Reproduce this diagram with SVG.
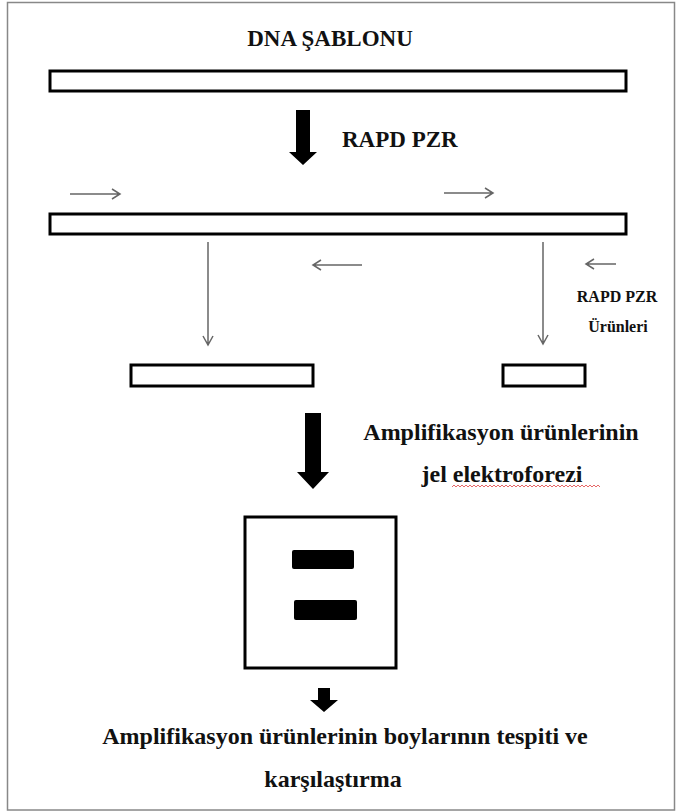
<svg xmlns="http://www.w3.org/2000/svg" width="676" height="812" viewBox="0 0 676 812">
<style>
.t{font-family:"Liberation Serif","Tinos","Times New Roman",Times,serif;font-weight:700;fill:#111}
.bar{fill:#fff;stroke:#000;stroke-width:3}
.thin{stroke:#666;stroke-width:1.5;fill:none}
.blk{fill:#000}
</style>
<rect x="0" y="0" width="676" height="812" fill="#fff"/>
<rect x="7.5" y="2.5" width="667" height="807.5" fill="none" stroke="#888" stroke-width="1.5"/>
<g id="title"><text class="t" x="330" y="46" font-size="23" text-anchor="middle" font-family="Liberation Serif, serif">DNA ŞABLONU</text></g>
<g id="dna-template"><rect class="bar" x="50" y="71" width="576" height="20"/></g>
<g id="rapd-label"><text class="t" x="342" y="147" font-size="23">RAPD PZR</text></g>
<g id="dna-primed"><rect class="bar" x="50" y="214" width="576" height="20"/></g>
<g id="product-1"><rect class="bar" x="131" y="365" width="182" height="21"/></g>
<g id="product-2"><rect class="bar" x="503" y="365" width="82" height="21"/></g>
<g id="products-label">
<text class="t" x="617" y="302" font-size="16" text-anchor="middle">RAPD PZR</text>
<text class="t" x="618" y="332" font-size="16" text-anchor="middle">Ürünleri</text>
</g>
<g id="gel-label">
<text class="t" x="501" y="440" font-size="24" text-anchor="middle">Amplifikasyon ürünlerinin</text>
<text class="t" x="502" y="482" font-size="24" text-anchor="middle">jel elektroforezi</text>
<path d="M452 487 l2 -2 l2 2 l2 -2 l2 2 l2 -2 l2 2 l2 -2 l2 2 l2 -2 l2 2 l2 -2 l2 2 l2 -2 l2 2 l2 -2 l2 2 l2 -2 l2 2 l2 -2 l2 2 l2 -2 l2 2 l2 -2 l2 2 l2 -2 l2 2 l2 -2 l2 2 l2 -2 l2 2 l2 -2 l2 2 l2 -2 l2 2 l2 -2 l2 2 l2 -2 l2 2 l2 -2 l2 2 l2 -2 l2 2 l2 -2 l2 2 l2 -2 l2 2 l2 -2 l2 2 l2 -2 l2 2 l2 -2 l2 2 l2 -2 l2 2 l2 -2 l2 2 l2 -2 l2 2 l2 -2 l2 2 l2 -2 l2 2 l2 -2 l2 2 l2 -2 l2 2 l2 -2 l2 2 l2 -2 l2 2 l2 -2 l2 2 l2 -2 l2 2" fill="none" stroke="#e04040" stroke-width="0.8"/>
</g>
<g id="gel">
<rect x="245" y="517" width="151" height="151" fill="#fff" stroke="#000" stroke-width="3"/>
<rect class="blk" x="292" y="550" width="62" height="19" rx="2"/>
<rect class="blk" x="294" y="600" width="63" height="20" rx="2"/>
</g>
<g id="result-label">
<text class="t" x="345" y="744" font-size="24" text-anchor="middle">Amplifikasyon ürünlerinin boylarının tespiti ve</text>
<text class="t" x="333" y="787" font-size="24" text-anchor="middle">karşılaştırma</text>
</g>
<g id="connectors">
<polygon class="blk" points="296,110 310,110 310,152 317,152 303,165 289,152 296,152"/>
<polygon class="blk" points="305,413 321,413 321,472 329,472 313,489 297,472 305,472"/>
<polygon class="blk" points="318,688 330,688 330,700 338,700 324,712 310,700 318,700"/>
<g class="thin">
<path d="M70 194 H120 M112 189 L120 194 L112 199"/>
<path d="M444 193 H493 M485 188 L493 193 L485 198"/>
<path d="M362 265 H313 M321 260 L313 265 L321 270"/>
<path d="M616 264 H586 M594 259 L586 264 L594 269"/>
<path d="M208 242 V345 M203 336 L208 345 L213 336"/>
<path d="M543 242 V344 M538 335 L543 344 L548 335"/>
</g>
</g>
</svg>
